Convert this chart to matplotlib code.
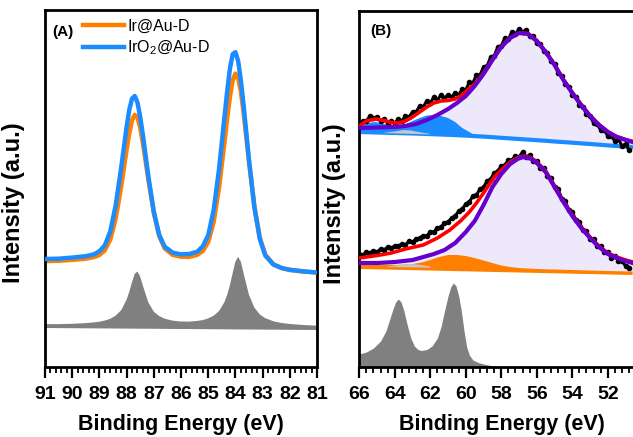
import matplotlib
matplotlib.use("Agg")
import matplotlib.pyplot as plt
from matplotlib.ticker import MultipleLocator

plt.rcParams['font.family'] = ['Liberation Sans', 'DejaVu Sans']
plt.rcParams['font.weight'] = 'bold'
plt.rcParams['mathtext.fontset'] = 'custom'
plt.rcParams['mathtext.rm'] = 'Liberation Sans'
plt.rcParams['mathtext.default'] = 'regular'

# ---------------- Panel A data (Ir 4f / Au 4f region) ----------------
be_a = [91.0, 90.5, 90.0, 89.5, 89.2, 89.0, 88.8, 88.6, 88.4, 88.2, 88.0, 87.9, 87.8, 87.7,
        87.6, 87.5, 87.4, 87.2, 87.0, 86.8, 86.6, 86.3, 86.0, 85.7, 85.4, 85.2, 85.0, 84.8,
        84.6, 84.4, 84.3, 84.2, 84.1, 84.0, 83.9, 83.8, 83.7, 83.5, 83.3, 83.1, 82.9, 82.6,
        82.3, 82.0, 81.5, 81.0]
ir_au = [105.9, 106.2, 107.1, 108.3, 109.9, 112, 116.7, 127.4, 148.5, 180.3, 217.4, 233.8,
         246.6, 252.1, 249.5, 239.6, 223.9, 187.4, 154.2, 130.9, 118.6, 112, 110.3, 110.1,
         112.2, 116, 124.9, 144.7, 179.4, 224.9, 249.1, 270.2, 286.6, 293.4, 289.5, 275.9,
         254.7, 205.5, 160.4, 128.9, 112.2, 102.6, 98.9, 97, 95.5, 94.4]
iro2_au = [108, 108.3, 109.4, 110.8, 112.7, 115.7, 121.7, 135.6, 161.8, 199.1, 239.9, 257.4,
           268.4, 271, 264.5, 250.1, 231.8, 190.6, 155.3, 132, 120.3, 114.3, 112.6, 113,
           115.3, 120.7, 131.6, 156.8, 198.2, 250.4, 276.1, 298.6, 312.8, 314.9, 306.2, 286.7,
           262.2, 206.8, 159.1, 127.8, 111.4, 102.4, 99, 97.2, 95.6, 94.5]
ref_a = [42.8, 42.9, 43.2, 43.9, 44.6, 45.3, 46.5, 48.2, 51.4, 56.8, 67.3, 75.4, 85, 93.2,
         95.5, 90.4, 81.1, 64.6, 55.3, 50.9, 48.3, 46.3, 45.5, 45.4, 46.1, 46.9, 48.6, 51.3,
         56, 65, 72.4, 82, 94, 105.3, 110.2, 105.2, 93.8, 72, 59.3, 52.5, 48.8, 45.7, 44, 43,
         42, 41.3]
ref_a_base_x = [81.0, 91.0]
ref_a_base_y = [37.0, 39.0]
labels_a = ["Ir@Au-D", "IrO$_{2}$@Au-D"]

# ---------------- Panel B data ----------------
be_fit_top = [66.0, 65.0, 64.0, 63.4, 62.8, 62.2, 61.6, 61.0, 60.5, 60.0, 59.5, 59.0, 58.5,
              58.0, 57.5, 57.0, 56.5, 56.0, 55.5, 55.0, 54.5, 54.0, 53.5, 53.0, 52.5, 52.0,
              51.5, 51.0, 50.6]
main_top = [239, 239.5, 240, 241, 243, 247, 252, 258, 264, 271, 281, 293, 307, 320, 329, 334,
            333, 326, 315, 302, 287, 274, 262, 251, 242, 235, 230, 227, 225]
bg_top = [235, 234.5, 234, 233.7, 233.4, 233, 232.6, 232.2, 231.8, 231.4, 230.9, 230.4, 229.8,
          229.2, 228.6, 228, 227.4, 226.8, 226.2, 225.5, 224.9, 224.3, 223.6, 223, 222.3,
          221.6, 221, 220.3, 219.8]
be_blue = [66.0, 65.6, 65.1, 64.6, 64.2, 63.8, 63.4, 63.0, 62.6, 62.2, 61.8, 61.4, 61.0, 60.6,
           60.2, 59.8, 59.5]
blue_comp = [241, 244, 245, 243, 241, 241, 243, 246, 249, 251.5, 252, 251, 249, 245, 239, 235,
             231.5]
blue_base_x = [59.5, 66.0]
blue_base_y = [230.4, 234.5]
be_small_top = [64.6, 64.0, 63.5, 63.1, 62.6, 62.0]
small_top = [234.2, 235.5, 237, 236.5, 234.8, 233.0]
small_top_base_x = [62.0, 64.6]
small_top_base_y = [232.6, 233.9]
be_red_top = [66.0, 65.6, 65.1, 64.6, 64.2, 63.8, 63.4, 63.0, 62.6, 62.2, 61.8, 61.4, 61.0,
              60.6, 60.2, 59.9, 59.5, 59.0, 58.5, 58.0, 57.5, 57.0, 56.5, 56.0, 55.5, 55.0,
              54.5, 54.0, 53.5, 53.0, 52.5, 52.0, 51.5, 51.0, 50.6]
red_top = [241, 246, 248, 246.5, 244.5, 244, 246, 250, 255, 260, 264, 266, 266.5, 268, 272,
           277, 283, 294, 307.5, 320.5, 329.5, 334, 333.5, 326.5, 315.5, 302.5, 287.5, 274.5,
           262.5, 251.5, 242.5, 235.5, 230.5, 227.5, 225.5]

be_fit_bot = [66.0, 65.0, 64.0, 63.0, 62.4, 61.8, 61.2, 60.6, 60.0, 59.5, 59.0, 58.5, 58.0,
              57.5, 57.0, 56.7, 56.3, 56.0, 55.5, 55.0, 54.5, 54.0, 53.5, 53.0, 52.5, 52.0,
              51.5, 51.0, 50.6]
main_bot = [104, 104, 105, 107, 110, 113, 117, 124, 135, 146, 162, 180, 193, 203, 209, 210,
            208, 204, 195, 180, 165, 151, 139, 129, 120, 113, 109, 106, 104]
bg_bot = [101, 100.6, 100.2, 99.8, 99.6, 99.4, 99.1, 98.9, 98.7, 98.5, 98.3, 98.1, 97.9, 97.7,
          97.5, 97.4, 97.3, 97.1, 96.9, 96.7, 96.5, 96.3, 96.1, 95.9, 95.8, 95.6, 95.4, 95.2,
          95.0]
be_orange = [66.0, 64.0, 63.0, 62.5, 62.0, 61.5, 61.0, 60.5, 60.0, 59.5, 59.0, 58.5, 58.0,
             57.5, 57.0, 56.0, 54.0, 52.0, 50.6]
orange_comp = [102, 102, 103, 104.5, 107, 110, 112, 112, 111, 109, 106.5, 104, 101.5, 100, 99,
               98, 97, 96, 95.5]
orange_base_x = [50.6, 66.0]
orange_base_y = [92.0, 98.0]
be_small_bot = [64.4, 63.7, 63.1, 62.6, 62.0]
small_bot = [100.4, 102.0, 103.0, 102.2, 100.5]
small_bot_base_x = [62.0, 64.4]
small_bot_base_y = [99.3, 100.1]
be_red_bot = [66.0, 65.0, 64.2, 63.4, 62.4, 61.6, 60.9, 60.3, 59.8, 59.4, 59.0, 58.7, 58.4,
              58.0, 57.5, 57.0, 56.7, 56.3, 56.0, 55.5, 55.0, 54.5, 54.0, 53.5, 53.0, 52.5,
              52.0, 51.5, 51.0, 50.6]
red_bot = [109, 111.5, 114, 118, 122, 129, 137, 146, 155, 164, 174, 182, 190, 197, 205, 210,
           211, 209, 205, 196, 181, 166, 152, 140, 130, 121, 114, 110, 107, 105]

be_raw = [66.0, 65.8, 65.6, 65.4, 65.2, 65.0, 64.8, 64.6, 64.4, 64.2, 64.0, 63.8, 63.6, 63.4,
          63.2, 63.0, 62.8, 62.6, 62.4, 62.2, 62.0, 61.8, 61.6, 61.4, 61.2, 61.0, 60.8, 60.6,
          60.4, 60.2, 60.0, 59.8, 59.6, 59.4, 59.2, 59.0, 58.8, 58.6, 58.4, 58.2, 58.0, 57.8,
          57.6, 57.4, 57.2, 57.0, 56.8, 56.6, 56.4, 56.2, 56.0, 55.8, 55.6, 55.4, 55.2, 55.0,
          54.8, 54.6, 54.4, 54.2, 54.0, 53.8, 53.6, 53.4, 53.2, 53.0, 52.8, 52.6, 52.4, 52.2,
          52.0, 51.8, 51.6, 51.4, 51.2, 51.0, 50.8]
raw_top = [242, 246, 246, 251, 249, 250, 246, 248, 244, 246, 244, 248, 246, 251, 250, 255, 255,
           261, 260, 266, 264, 270, 267, 272, 269, 272, 270, 274, 272, 278, 277, 285, 284, 292,
           292, 300, 301, 310, 311, 320, 321, 329, 328, 335, 333, 338, 335, 337, 331, 331, 324,
           323, 316, 314, 306, 303, 294, 291, 283, 280, 272, 270, 262, 260, 253, 251, 244, 243,
           237, 237, 231, 231, 226, 228, 221, 223, 217]
raw_bot = [113, 112, 115, 114, 116, 115, 118, 117, 120, 119, 121, 121, 123, 122, 126, 125, 128,
           129, 131, 131, 135, 135, 139, 140, 144, 145, 149, 151, 156, 158, 163, 165, 171, 172,
           178, 180, 186, 188, 194, 196, 201, 202, 207, 207, 211, 210, 215, 210, 212, 206, 206,
           199, 199, 191, 189, 180, 178, 168, 166, 157, 155, 147, 145, 137, 136, 128, 128, 121,
           121, 115, 115, 109, 111, 106, 106, 101, 99]

be_ref_b = [66.0, 65.6, 65.2, 64.8, 64.5, 64.3, 64.1, 63.95, 63.8, 63.65, 63.5, 63.3, 63.1,
            62.9, 62.7, 62.5, 62.2, 61.9, 61.6, 61.4, 61.2, 61.0, 60.85, 60.7, 60.55, 60.4,
            60.25, 60.1, 59.95, 59.8, 59.6, 59.3, 59.0, 58.6, 58.2, 57.8]
ref_b = [13, 15, 19, 26, 36, 47, 58, 65, 68, 65, 57, 42, 29, 21, 17.5, 16.5, 17.5, 21, 29, 40,
         56, 71, 80, 84, 81, 71, 56, 36, 20, 12, 7, 4.5, 3, 1.5, 0.5, 0]

# ---------------- colours ----------------
ORANGE = "#FF8000"
BLUE = "#1A8CFF"
PURPLE = "#6600CC"
RED = "#FF0000"
LAV = "#EDE9FB"
GRAY = "#808080"
LGRAY = "#C8C8C8"

W, H = 633, 437
fig = plt.figure(figsize=(W / 100, H / 100), dpi=100)
axA = fig.add_axes([45 / W, 70 / H, 272 / W, 357 / H])
axB = fig.add_axes([359.3 / W, 70 / H, (W - 359.3) / W, 356 / H])

# ---------------- Panel A ----------------
axA.fill(be_a + ref_a_base_x, ref_a + ref_a_base_y, color=GRAY, lw=0, zorder=1)
la1, = axA.plot(be_a, ir_au, color=ORANGE, lw=3.2, zorder=2, solid_joinstyle='round')
la2, = axA.plot(be_a, iro2_au, color=BLUE, lw=3.2, zorder=3, solid_joinstyle='round')
axA.set_xlim(91, 81)
axA.set_ylim(0, 357)
leg = axA.legend([la1, la2], labels_a, loc='upper left', bbox_to_anchor=(0.14, 0.975),
                 frameon=False, handlelength=2.55, handletextpad=0.2, labelspacing=0.28,
                 borderaxespad=0, borderpad=0, prop={'size': 11.5, 'weight': 'normal'})
axA.text(0.026, 0.938, "(A)", transform=axA.transAxes, fontsize=11, fontweight='bold',
         ha='left', va='center')
axA.xaxis.set_major_locator(MultipleLocator(1))
axA.xaxis.set_minor_locator(MultipleLocator(0.2))

# ---------------- Panel B ----------------
axB.fill_between(be_fit_top, main_top, bg_top, color=LAV, lw=0, zorder=1)
axB.fill_between(be_fit_bot, main_bot, bg_bot, color=LAV, lw=0, zorder=1)
axB.fill(be_blue + blue_base_x, blue_comp + blue_base_y, color=BLUE, lw=0, zorder=2)
axB.plot(be_fit_top, bg_top, color=BLUE, lw=3, zorder=2)
axB.fill(be_small_top + small_top_base_x, small_top + small_top_base_y, color=LGRAY, lw=0,
         zorder=2.5)
axB.fill(be_orange + orange_base_x, orange_comp + orange_base_y, color=ORANGE, lw=0, zorder=2)
axB.fill(be_small_bot + small_bot_base_x, small_bot + small_bot_base_y, color=LGRAY, lw=0,
         zorder=2.5)
axB.fill_between(be_ref_b, ref_b, 0, color=GRAY, lw=0, zorder=2)
for yr in (raw_top, raw_bot):
    axB.plot(be_raw, yr, color='black', lw=2.2, marker='o', ms=3, zorder=3)
axB.plot(be_red_top, red_top, color=RED, lw=2.6, zorder=4)
axB.plot(be_red_bot, red_bot, color=RED, lw=2.6, zorder=4)
axB.plot(be_fit_top, main_top, color=PURPLE, lw=3, zorder=5)
axB.plot(be_fit_bot, main_bot, color=PURPLE, lw=3, zorder=5)
axB.set_xlim(66, 50.58)
axB.set_ylim(0, 356)
axB.spines['right'].set_visible(False)
axB.text(0.039, 0.944, "(B)", transform=axB.transAxes, fontsize=11, fontweight='bold',
         ha='left', va='center')
axB.xaxis.set_major_locator(MultipleLocator(2))
axB.xaxis.set_minor_locator(MultipleLocator(0.4))

for ax in (axA, axB):
    ax.set_yticks([])
    for s in ax.spines.values():
        s.set_linewidth(2.0)
    ax.tick_params(axis='x', which='major', direction='out', length=8, width=1.6,
                   labelsize=14, pad=6)
    ax.tick_params(axis='x', which='minor', direction='out', length=4, width=1.3)
    ax.set_xlabel("Binding Energy (eV)", fontsize=15.5, fontweight='bold')
    ax.set_ylabel("Intensity (a.u.)", fontsize=17, fontweight='bold')

axA.yaxis.set_label_coords(-0.075, 0.459)
axB.yaxis.set_label_coords(-0.05, 0.459)
axA.xaxis.set_label_coords(0.5, -0.132)
axB.xaxis.set_label_coords(0.52, -0.132)

fig.savefig("out.png", dpi=100)
